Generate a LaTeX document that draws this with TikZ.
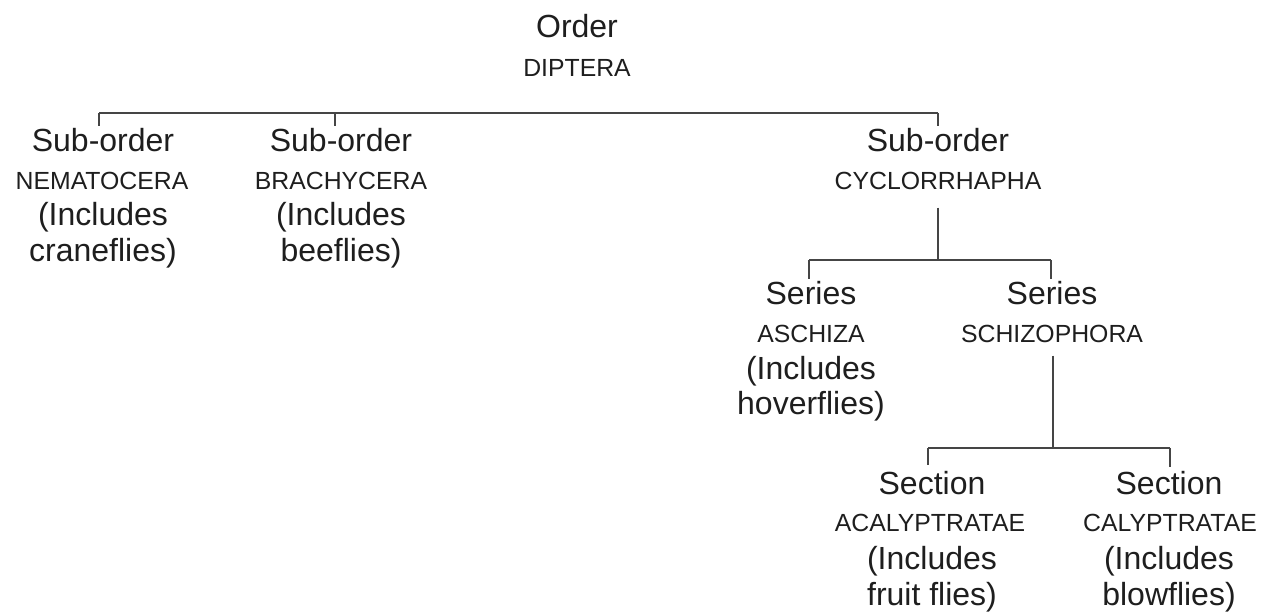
\documentclass[tikz,border=0pt]{standalone}
\usepackage{fontspec}
\setmainfont{Liberation Sans}
\definecolor{inkc}{HTML}{1E1E1E}
\definecolor{linec}{HTML}{454545}
\begin{document}
\begin{tikzpicture}[x=0.5pt,y=-0.5pt,
  big/.style={anchor=base,inner sep=0pt,font=\fontsize{16}{18}\selectfont,text=inkc},
  caps/.style={anchor=base,inner sep=0pt,font=\fontsize{12.4}{14}\selectfont,text=inkc},
  link/.style={draw=linec,line width=1pt}]
\useasboundingbox (0,0) rectangle (1270,613);
% Order
\node[big]  (ordA) at (577,38) {Order};
\node[caps] (ordB) at (577,77) {DIPTERA};
% Nematocera
\node[big]  (nemA) at (103,152) {Sub-order};
\node[caps] (nemB) at (102,190) {NEMATOCERA};
\node[big]  (nemC) at (103,226) {(Includes};
\node[big]  (nemD) at (103,262) {craneflies)};
% Brachycera
\node[big]  (braA) at (341,152) {Sub-order};
\node[caps] (braB) at (341,190) {BRACHYCERA};
\node[big]  (braC) at (341,226) {(Includes};
\node[big]  (braD) at (341,262) {beeflies)};
% Cyclorrhapha
\node[big]  (cycA) at (938,152) {Sub-order};
\node[caps] (cycB) at (938,190) {CYCLORRHAPHA};
% Aschiza
\node[big]  (ascA) at (811,305) {Series};
\node[caps] (ascB) at (811,343) {ASCHIZA};
\node[big]  (ascC) at (811,380) {(Includes};
\node[big]  (ascD) at (811,415) {hoverflies)};
% Schizophora
\node[big]  (schA) at (1052,305) {Series};
\node[caps] (schB) at (1052,343) {SCHIZOPHORA};
% Acalyptratae
\node[big]  (acaA) at (932,495) {Section};
\node[caps] (acaB) at (930,532) {ACALYPTRATAE};
\node[big]  (acaC) at (932,570) {(Includes};
\node[big]  (acaD) at (932,606) {fruit flies)};
% Calyptratae
\node[big]  (calA) at (1169,495) {Section};
\node[caps] (calB) at (1170,532) {CALYPTRATAE};
\node[big]  (calC) at (1169,570) {(Includes};
\node[big]  (calD) at (1169,606) {blowflies)};
% junction coordinates
\coordinate (tL) at (99,113);
\coordinate (tB) at (335,113);
\coordinate (tR) at (938,113);
\coordinate (j1) at (938,260);
\coordinate (j1L) at (809,260);
\coordinate (j1R) at (1051,260);
\coordinate (j2) at (1053,448);
\coordinate (j2L) at (928,448);
\coordinate (j2R) at (1170,448);
% connectors
\draw[link] (tL) -- (tR);
\draw[link] (tL) -- ([yshift=1pt]tL |- nemA.north);
\draw[link] (tB) -- ([yshift=1pt]tB |- braA.north);
\draw[link] (tR) -- ([yshift=1pt]tR |- cycA.north);
\draw[link] ([yshift=-8.5pt]cycB.south -| j1) -- (j1);
\draw[link] (j1L) -- (j1R);
\draw[link] (j1L) -- ([yshift=1pt]j1L |- ascA.north);
\draw[link] (j1R) -- ([yshift=1pt]j1R |- schA.north);
\draw[link] ([yshift=-6pt]schB.south -| j2) -- (j2);
\draw[link] (j2L) -- (j2R);
\draw[link] (j2L) -- ([yshift=3pt]j2L |- acaA.north);
\draw[link] (j2R) -- ([yshift=2pt]j2R |- calA.north);
\end{tikzpicture}
\end{document}
